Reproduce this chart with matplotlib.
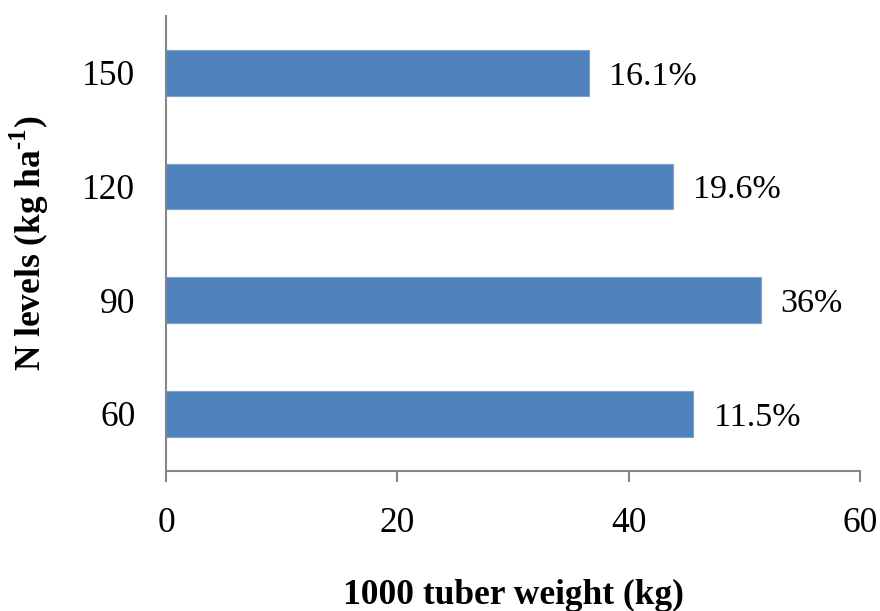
import matplotlib; matplotlib.use("Agg")
import matplotlib.pyplot as plt

# data
n_levels = ["60", "90", "120", "150"]
tuber_weight = [45.6, 51.4, 43.8, 36.6]
pct_labels = ["11.5%", "36%", "19.6%", "16.1%"]

plt.rcParams["font.family"] = ["Liberation Serif", "DejaVu Serif"]
plt.rcParams["mathtext.fontset"] = "custom"
plt.rcParams["mathtext.rm"] = "Liberation Serif:bold"

fig = plt.figure(figsize=(8.8, 6.11), dpi=100)
W, H = 880, 611
ax = fig.add_axes([166 / W, (H - 470.7) / H, (860 - 166) / W, (470.7 - 16) / H])

ypos = range(len(n_levels))
bars = ax.barh(ypos, tuber_weight, height=0.4, color="#4F81BD", edgecolor="#7EA3D3", lw=0.8)
for b, lab in zip(bars, pct_labels):
    ax.annotate(lab, (b.get_width(), b.get_y() + b.get_height() / 2), xytext=(14.5, -2.5),
                textcoords="offset points", va="center", ha="left", fontsize=24.5)

ax.set_xlim(0, 60); ax.set_ylim(-0.5, 3.5)
ax.set_xticks([0, 20, 40, 60])
ax.set_yticks(list(ypos)); ax.set_yticklabels(n_levels)
ax.tick_params(axis="x", length=8, width=1.5, color="#868686", pad=18, labelsize=25.5)
ax.tick_params(axis="y", length=0, pad=22, labelsize=25.5)
for s in ["top", "right"]:
    ax.spines[s].set_visible(False)
for s in ["left", "bottom"]:
    ax.spines[s].set_color("#868686"); ax.spines[s].set_linewidth(1.5)

ax.set_xlabel("1000 tuber weight (kg)", fontsize=25.5, fontweight="bold")
ax.set_ylabel(r"N levels (kg ha$^{\text{-1}}$)", fontsize=25.5, fontweight="bold")
ax.xaxis.set_label_coords(0.5, -0.238)
ax.yaxis.set_label_coords(-0.165, 0.5)

fig.savefig("out.png", dpi=100)
